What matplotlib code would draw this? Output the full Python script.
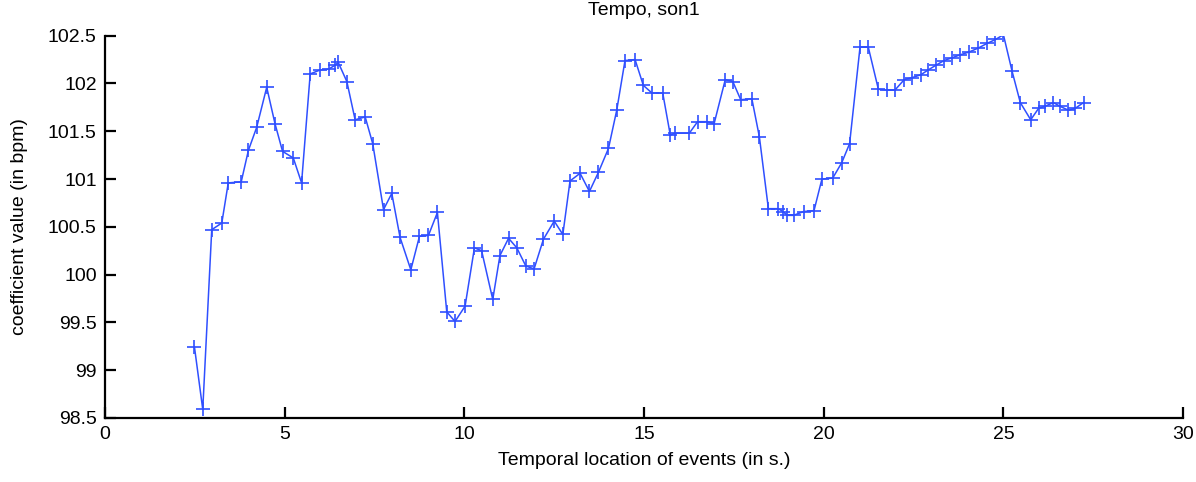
import numpy as np
import matplotlib.pyplot as plt

plt.rcParams['font.family'] = ['Liberation Sans', 'DejaVu Sans']

# temps des evenements (s) et valeur du tempo (bpm)
t = [2.49, 2.72, 2.97, 3.25, 3.43, 3.79, 3.99, 4.22, 4.50, 4.73,
     4.94, 5.24, 5.47, 5.71, 5.98, 6.22, 6.40, 6.49, 6.73, 6.96,
     7.24, 7.45, 7.75, 7.98, 8.21, 8.51, 8.75, 9.00, 9.25, 9.51,
     9.74, 10.02, 10.28, 10.48, 10.79, 10.99, 11.23, 11.46, 11.71, 11.94,
     12.20, 12.50, 12.74, 12.94, 13.22, 13.48, 13.73, 14.01, 14.24, 14.47,
     14.75, 14.98, 15.22, 15.52, 15.73, 15.86, 16.26, 16.49, 16.75, 16.95,
     17.26, 17.47, 17.69, 18.00, 18.21, 18.46, 18.74, 18.86, 18.99, 19.16,
     19.44, 19.73, 19.95, 20.25, 20.50, 20.72, 21.01, 21.24, 21.52, 21.75,
     21.98, 22.24, 22.45, 22.70, 22.90, 23.12, 23.35, 23.58, 23.80, 24.05,
     24.30, 24.55, 24.78, 25.00, 25.24, 25.47, 25.76, 25.98, 26.15, 26.39,
     26.58, 26.81, 27.00, 27.23]
tempo = [99.24, 98.59, 100.47, 100.54, 100.96, 100.97, 101.30, 101.54, 101.96, 101.58,
         101.29, 101.22, 100.96, 102.10, 102.14, 102.15, 102.19, 102.22, 102.02, 101.62,
         101.65, 101.37, 100.68, 100.85, 100.39, 100.05, 100.40, 100.41, 100.65, 99.61,
         99.51, 99.67, 100.28, 100.25, 99.74, 100.20, 100.38, 100.28, 100.09, 100.06,
         100.37, 100.56, 100.42, 100.98, 101.06, 100.87, 101.07, 101.32, 101.72, 102.24,
         102.25, 101.98, 101.90, 101.90, 101.46, 101.48, 101.48, 101.60, 101.60, 101.58,
         102.04, 102.02, 101.83, 101.84, 101.44, 100.69, 100.69, 100.66, 100.62, 100.62,
         100.66, 100.67, 101.00, 101.01, 101.17, 101.37, 102.38, 102.38, 101.94, 101.93,
         101.93, 102.04, 102.06, 102.09, 102.14, 102.19, 102.24, 102.27, 102.30, 102.33,
         102.37, 102.42, 102.46, 102.51, 102.13, 101.80, 101.62, 101.74, 101.76, 101.80,
         101.76, 101.72, 101.74, 101.80]

xticks = [0, 5, 10, 15, 20, 25, 30]
yticks = [98.5, 99, 99.5, 100, 100.5, 101, 101.5, 102, 102.5]

fig = plt.figure(figsize=(11.96, 4.82), dpi=100)
ax = fig.add_axes([0.0878, 0.1328, 0.9014, 0.7932])
ax.plot(t, tempo, color='#2f4fff', lw=1.1, marker='+', ms=10, mew=1.2)

ax.set_xlim(0, 30)
ax.set_ylim(98.5, 102.5)
ax.set_xticks(xticks)
ax.set_yticks(yticks)
ax.set_yticklabels(['98.5', '99', '99.5', '100', '100.5', '101', '101.5', '102', '102.5'])
ax.spines['top'].set_visible(False)
ax.spines['right'].set_visible(False)
for s in ['left', 'bottom']:
    ax.spines[s].set_linewidth(1.6)
ax.tick_params(direction='in', length=8, width=1.6, labelsize=14, pad=6)

ax.set_title('Tempo, son1', fontsize=14, pad=15)
ax.set_xlabel('Temporal location of events (in s.)', fontsize=14, labelpad=6)
ax.set_ylabel('coefficient value (in bpm)', fontsize=14, labelpad=14)

fig.savefig('out.png', dpi=100)
